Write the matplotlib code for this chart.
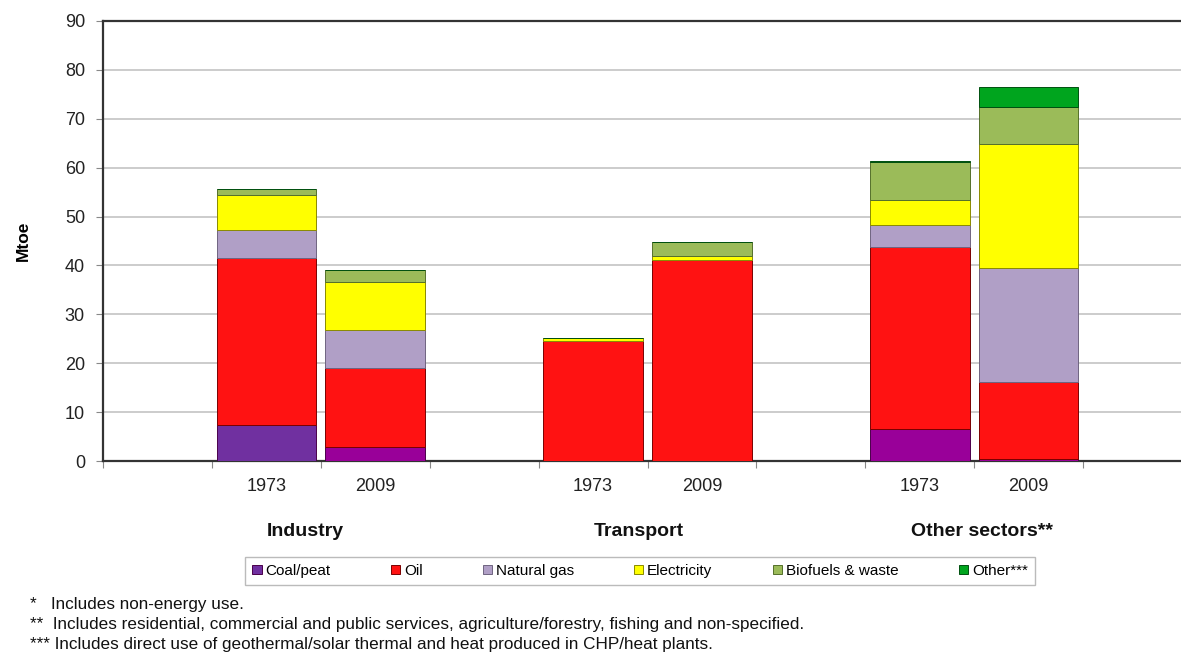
import numpy as np
import matplotlib.pyplot as plt
from matplotlib.transforms import blended_transform_factory

plt.rcParams['font.family'] = ['Liberation Sans', 'DejaVu Sans']

# slot positions (empty slots between sectors)
posicoes = [1, 2, 4, 5, 7, 8]
anos = ["1973", "2009", "1973", "2009", "1973", "2009"]
setores = ["Industry", "Transport", "Other sectors**"]
setores_x = [1.86, 4.92, 8.07]

fontes = ["Coal/peat", "Oil", "Natural gas", "Electricity", "Biofuels & waste", "Other***"]
carvao = [7.3, 2.9, 0.0, 0.0, 6.6, 0.4]
petroleo = [34.3, 16.1, 24.6, 41.1, 37.1, 15.8]
gas = [5.6, 7.7, 0.0, 0.0, 4.5, 23.3]
eletricidade = [7.2, 10.0, 0.5, 0.8, 5.1, 25.3]
biocombustiveis = [1.3, 2.4, 0.1, 2.8, 7.8, 7.6]
outros = [0.0, 0.0, 0.0, 0.0, 0.3, 4.0]

cores = ["#990099", "#FF1212", "#B09FC6", "#FFFF00", "#9BBB59", "#00A51E"]
bordas = ["#4A004A", "#7A0000", "#6F6480", "#8A8A00", "#55702A", "#005010"]
# industry 1973 coal is drawn in a bluer purple in the original
cor_carvao = ["#7030A0", "#990099", "#990099", "#990099", "#990099", "#990099"]

fig = plt.figure(figsize=(11.81, 6.53), dpi=100)
ax = fig.add_axes([103 / 1181, 1 - 461 / 653, 1089 / 1181, 440 / 653])

base = np.zeros(len(posicoes))
x = np.array(posicoes) + 0.5
series = [carvao, petroleo, gas, eletricidade, biocombustiveis, outros]
for i, valores in enumerate(series):
    cor = cor_carvao if i == 0 else cores[i]
    ax.bar(x, valores, width=0.915, bottom=base, color=cor, edgecolor=bordas[i],
           linewidth=0.7, label=fontes[i], zorder=3)
    base = base + np.array(valores)

ax.set_xlim(0, 10)
ax.set_ylim(0, 90)
ax.set_yticks(np.arange(0, 91, 10))
ax.yaxis.grid(True, color="#C4C4C4", linewidth=1.2, zorder=0)
ax.set_xticks(np.arange(0, 11, 1))
ax.set_xticklabels([])
ax.set_xticks(x, minor=True)
ax.set_xticklabels(anos, minor=True, fontsize=13, color="#222222")
ax.tick_params(axis="x", which="minor", length=0, pad=12)
ax.tick_params(axis="x", which="major", length=5, color="#888888")
ax.tick_params(axis="y", length=5, color="#888888", labelsize=13, labelcolor="#222222", pad=8)

for lado in ["left", "bottom", "top"]:
    ax.spines[lado].set_color("#333333")
    ax.spines[lado].set_linewidth(1.6)
ax.spines["right"].set_visible(False)

ax.set_ylabel("Mtoe", fontsize=12.5, fontweight="bold", labelpad=24)

trans = blended_transform_factory(ax.transData, fig.transFigure)
for nome, sx in zip(setores, setores_x):
    fig.text(sx, 1 - 532 / 653, nome, transform=trans, ha="center", va="center",
             fontsize=14, fontweight="bold", color="#111111")

leg = fig.legend(loc="center", bbox_to_anchor=(640 / 1181, 1 - 571 / 653), ncol=6,
                 fontsize=11, frameon=True, fancybox=False, edgecolor="#AAAAAA",
                 handlelength=0.6, handleheight=0.6, handletextpad=0.25,
                 columnspacing=3.95, borderpad=0.45)
leg.get_frame().set_linewidth(1.0)

notas = ["*   Includes non-energy use.",
         "**  Includes residential, commercial and public services, agriculture/forestry, fishing and non-specified.",
         "*** Includes direct use of geothermal/solar thermal and heat produced in CHP/heat plants."]
for k, nota in enumerate(notas):
    fig.text(30 / 1181, 1 - (604 + 20 * k) / 653, nota, ha="left", va="center",
             fontsize=12.3, color="#111111")

fig.savefig("out.png", dpi=100)
